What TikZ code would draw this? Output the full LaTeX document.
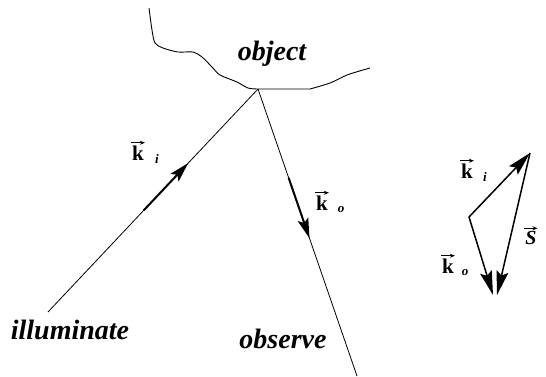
\documentclass[tikz,border=0pt]{standalone}
\usepackage{fontspec}
\setmainfont{Liberation Serif}
\usetikzlibrary{arrows.meta}
\newcommand\bigword[1]{{\fontsize{28}{30}\selectfont\bfseries\itshape #1}}
\newcommand\kletter{{\fontsize{21}{23}\selectfont\bfseries k}}
\newcommand\subletter[1]{{\fontsize{13}{14}\selectfont\bfseries\itshape #1}}
\begin{document}
\begin{tikzpicture}[x=1pt,y=-1pt,
  ray/.style={line width=0.8pt},
  midarrow/.style={line width=2pt,-{Stealth[length=20pt,width=11pt,inset=4pt]}},
  vecarrow/.style={line width=1.5pt,-{Stealth[length=24pt,width=12pt,inset=4pt]}},
  overarrow/.style={line width=1pt,-{Stealth[length=5pt,width=4pt]}},
  lbl/.style={inner sep=0pt,outer sep=0pt}]
\useasboundingbox (0,0) rectangle (546,376);
% object outline
\draw[line width=0.9pt] plot[smooth,tension=0.5] coordinates {(149,8) (152,30) (155,43) (163,48) (178,52) (193,52) (202,57) (212,67) (220,75) (237,82) (248,88) (258,89)} -- (310,89)
  plot[smooth,tension=0.5] coordinates {(310,89) (330,83) (347,75) (363,70) (370,68)};
\node[lbl,anchor=base] (obj) at (272,60) {\bigword{object}};
% rays
\coordinate (apex) at (258,89);
\coordinate (src) at (48,312);
\coordinate (det) at (357,376);
\draw[ray] (src) -- (apex);
\draw[ray] (apex) -- (det);
\path (src) -- (apex) coordinate[pos=0.455] (kia) coordinate[pos=0.668] (kib);
\path (apex) -- (det) coordinate[pos=0.31] (koa) coordinate[pos=0.52] (kob);
\draw[midarrow] (kia) -- (kib);
\draw[midarrow] (koa) -- (kob);
% labels on rays
\node[lbl] (k1) at (138,153) {\kletter};
\node[lbl] (s1) at (157,159) {\subletter{i}};
\node[lbl] (k2) at (322,203) {\kletter};
\node[lbl] (s2) at (341,209) {\subletter{o}};
\node[lbl,anchor=base] (ill) at (70,339) {\bigword{illuminate}};
\node[lbl,anchor=base] (obs) at (283,348) {\bigword{observe}};
% vector triangle
\coordinate (T) at (530,153);
\coordinate (L) at (469,217);
\coordinate (B1) at (493,295);
\coordinate (B2) at (497,295);
\draw[vecarrow] (L) -- (T);
\draw[vecarrow] (L) -- (B1);
\draw[vecarrow] (T) -- (B2);
\node[lbl] (k3) at (467,171) {\kletter};
\node[lbl] (s3) at (485,177) {\subletter{i}};
\node[lbl] (k4) at (448,266) {\kletter};
\node[lbl] (s4) at (465,272) {\subletter{o}};
\node[lbl] (S) at (531,238) {{\fontsize{20}{22}\selectfont\bfseries\itshape S}};
% arrows over letters
\foreach \n in {k1,k2,k3,k4,S}
  \draw[overarrow] ([xshift=-1pt,yshift=3pt]\n.north west) -- ([xshift=1pt,yshift=3pt]\n.north east);
\end{tikzpicture}
\end{document}
